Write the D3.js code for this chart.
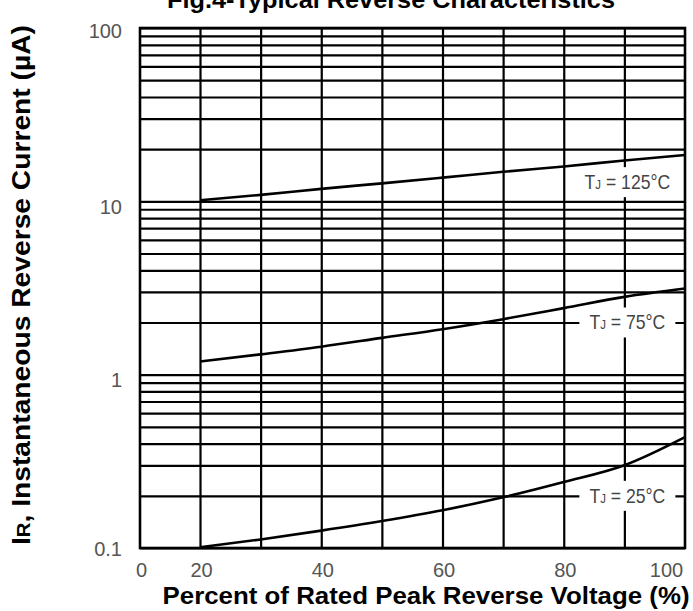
<!DOCTYPE html>
<html>
<head>
<meta charset="utf-8">
<script src="https://cdn.jsdelivr.net/npm/d3@7"></script>
<style>
  body { margin: 0; background: #fff; }
  text { font-family: "Liberation Sans", Arial, sans-serif; }
</style>
</head>
<body>
<div id="chart"></div>
<script>
// Values (percent of rated VRRM vs IR in uA)
const percent = [20, 30, 40, 50, 60, 70, 80, 90, 100];
const tj125 = [10.15, 10.9, 11.8, 12.7, 13.7, 14.8, 15.9, 17.2, 18.5];
const tj75 = [1.19, 1.31, 1.45, 1.63, 1.83, 2.09, 2.42, 2.81, 3.14];
const tj25 = [0.101, 0.112, 0.126, 0.143, 0.165, 0.196, 0.24, 0.3, 0.436];

const seriesTemps = ["125", "75", "25"];
const labelPercent = [90, 90, 90];
const labelCurrent = [12.9, 2, 0.2];

const xTickValues = [0, 20, 40, 60, 80, 100];
const xGridValues = [20, 30, 40, 50, 60, 70, 80, 90];
const yTickValues = [0.1, 1, 10, 100];

const width = 693, height = 611;
const plotLeft = 140, plotRight = 685, plotTop = 28, plotBottom = 548;

const svg = d3.select("#chart").append("svg")
  .attr("width", width)
  .attr("height", height);

// the 0..20 span is squeezed on the original sheet
const x = d3.scaleLinear().domain([0, 20, 100]).range([plotLeft, 200, plotRight]);
const y = d3.scaleLog().domain([0.1, 100]).range([plotBottom, plotTop]);

// grid
svg.append("g")
  .attr("transform", `translate(0,${plotBottom})`)
  .call(d3.axisBottom(x).tickValues(xGridValues).tickSize(-(plotBottom - plotTop)).tickFormat(""))
  .call(g => g.select(".domain").remove())
  .call(g => g.selectAll("line").attr("stroke", "#000").attr("stroke-width", 2.2));

svg.append("g")
  .attr("transform", `translate(${plotLeft},0)`)
  .call(d3.axisLeft(y).tickValues(y.ticks()).tickSize(-(plotRight - plotLeft)).tickFormat(""))
  .call(g => g.select(".domain").remove())
  .call(g => g.selectAll("line").attr("stroke", "#000").attr("stroke-width", 2.2));

svg.append("rect")
  .attr("x", plotLeft)
  .attr("y", plotTop)
  .attr("width", plotRight - plotLeft)
  .attr("height", plotBottom - plotTop)
  .attr("fill", "none")
  .attr("stroke", "#000")
  .attr("stroke-width", 2.6);

// curves
const line = d3.line()
  .x(d => x(d[0]))
  .y(d => y(d[1]))
  .curve(d3.curveMonotoneX);

for (const values of [tj125, tj75, tj25]) {
  svg.append("path")
    .datum(percent.map((p, i) => [p, values[i]]))
    .attr("d", line)
    .attr("fill", "none")
    .attr("stroke", "#000")
    .attr("stroke-width", 2.6);
}

// temperature labels sit on white boxes that break the grid
seriesTemps.forEach((t, i) => {
  const cx = x(labelPercent[i]) + 3;
  const cy = y(labelCurrent[i]);
  svg.append("rect")
    .attr("x", cx - 48)
    .attr("y", cy - 15)
    .attr("width", 96)
    .attr("height", 30)
    .attr("fill", "#fff");
  const txt = svg.append("text")
    .attr("transform", `translate(${cx},${cy + 7}) scale(0.88,1)`)
    .attr("text-anchor", "middle")
    .attr("fill", "#444")
    .style("font-size", "20px");
  txt.append("tspan").text("T");
  txt.append("tspan").style("font-size", "13px").text("J");
  txt.append("tspan").text(" = " + t + "\u00b0C");
});

// tick labels
svg.append("g")
  .attr("transform", `translate(0,${plotBottom})`)
  .call(d3.axisBottom(x).tickValues(xTickValues).tickSize(0).tickPadding(15))
  .call(g => g.select(".domain").remove())
  .call(g => g.selectAll("text")
    .attr("fill", "#555")
    .style("font-size", "20px")
    .attr("dx", d => d === 100 ? -19 : 1));

const yTickDy = {0.1: "0.35em", 1: "0.6em", 10: "0.6em", 100: "0.45em"};
svg.append("g")
  .attr("transform", `translate(${plotLeft - 18},0)`)
  .call(d3.axisLeft(y).tickValues(yTickValues).tickFormat(d3.format("~g")).tickSize(0).tickPadding(0))
  .call(g => g.select(".domain").remove())
  .call(g => g.selectAll("text")
    .attr("fill", "#555")
    .style("font-size", "20px")
    .attr("dy", d => yTickDy[d]));

// titles
svg.append("text")
  .attr("x", 391)
  .attr("y", 8)
  .attr("text-anchor", "middle")
  .attr("textLength", 448)
  .attr("lengthAdjust", "spacingAndGlyphs")
  .style("font-size", "24px")
  .style("font-weight", "bold")
  .text("Fig.4-Typical Reverse Characteristics");

svg.append("text")
  .attr("x", 426)
  .attr("y", 604)
  .attr("text-anchor", "middle")
  .attr("textLength", 527)
  .attr("lengthAdjust", "spacingAndGlyphs")
  .style("font-size", "24px")
  .style("font-weight", "bold")
  .text("Percent of Rated Peak Reverse Voltage (%)");

const yLabel = svg.append("text")
  .attr("transform", "translate(30,285) rotate(-90)")
  .attr("text-anchor", "middle")
  .attr("textLength", 520)
  .attr("lengthAdjust", "spacingAndGlyphs")
  .style("font-size", "25px")
  .style("font-weight", "bold");
yLabel.append("tspan").text("I");
yLabel.append("tspan").style("font-size", "18px").text("R");
yLabel.append("tspan").text(", Instantaneous Reverse Current (\u00b5A)");
</script>
</body>
</html>
